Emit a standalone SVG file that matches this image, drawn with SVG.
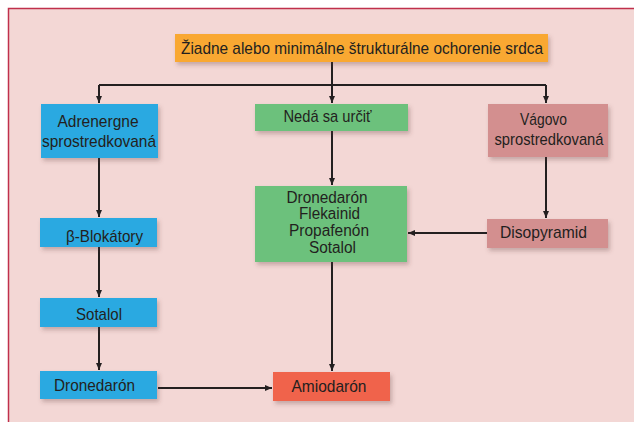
<svg xmlns="http://www.w3.org/2000/svg" width="634" height="422" viewBox="0 0 634 422">
  <defs>
    <filter id="shadow" x="-10%" y="-20%" width="130%" height="160%">
      <feDropShadow dx="2" dy="3" stdDeviation="2" flood-color="#5a3a3a" flood-opacity="0.3"/>
    </filter>
    <marker id="arrow" markerUnits="userSpaceOnUse" markerWidth="8" markerHeight="6" refX="7" refY="3" orient="auto">
      <path d="M0,0 L7,3 L0,6 z" fill="#231f20"/>
    </marker>
  </defs>
  <style>
    .box { filter: url(#shadow); }
    .blue { fill: #29a9e1; }
    .green { fill: #6cc17b; }
    .orange { fill: #f9a833; }
    .rose { fill: #d38f8f; }
    .red { fill: #f0644b; }
    text { font-family: "Liberation Sans", Arial, sans-serif; font-size: 17px; fill: #231f20; }
    .list { font-size: 16px; }
    .c { text-anchor: middle; }
    .link { fill: none; stroke: #231f20; stroke-width: 2; }
    .arr { marker-end: url(#arrow); }
  </style>

  <!-- background panel -->
  <rect x="0" y="0" width="634" height="422" fill="#ffffff"/>
  <rect x="8.5" y="8.5" width="640" height="430" fill="#f3d7d5" stroke="#c0304b" stroke-width="1.5"/>

  <!-- connectors -->
  <g id="connectors">
    <path class="link" d="M332,62 V85 M99,85 H546"/>
    <path class="link arr" d="M99,85 V103"/>
    <path class="link arr" d="M332,85 V103"/>
    <path class="link arr" d="M546,85 V103"/>
    <path class="link arr" d="M99,158 V217"/>
    <path class="link arr" d="M99,247 V297"/>
    <path class="link arr" d="M99,327 V370"/>
    <path class="link arr" d="M332,131 V185"/>
    <path class="link arr" d="M332,262 V371"/>
    <path class="link arr" d="M546,157 V218"/>
    <path class="link arr" d="M158,388 H272"/>
    <path class="link arr" d="M487,233 H408"/>
  </g>

  <g id="root">
    <rect class="box orange" x="175" y="34" width="373" height="28"/>
    <text x="362" y="53.5" class="c" textLength="362" lengthAdjust="spacingAndGlyphs">Žiadne alebo minimálne štrukturálne ochorenie srdca</text>
  </g>

  <g id="adrenergne">
    <rect class="box blue" x="41" y="104" width="117" height="54"/>
    <text x="98" y="127" class="c" textLength="81" lengthAdjust="spacingAndGlyphs">Adrenergne</text>
    <text x="99" y="146.5" class="c" textLength="114" lengthAdjust="spacingAndGlyphs">sprostredkovaná</text>
  </g>

  <g id="neda">
    <rect class="box green" x="255" y="104" width="153" height="27"/>
    <text x="327.5" y="122" class="c" textLength="88" lengthAdjust="spacingAndGlyphs">Nedá sa určiť</text>
  </g>

  <g id="vagovo">
    <rect class="box rose" x="488" y="104" width="120" height="53"/>
    <text x="543.5" y="124.5" class="c" textLength="47" lengthAdjust="spacingAndGlyphs">Vágovo</text>
    <text x="549" y="145" class="c" textLength="109" lengthAdjust="spacingAndGlyphs">sprostredkovaná</text>
  </g>

  <g id="blokatory">
    <rect class="box blue" x="40" y="218" width="117" height="29"/>
    <text x="104.5" y="241.5" class="c" textLength="77" lengthAdjust="spacingAndGlyphs">β-Blokátory</text>
  </g>

  <g id="lieky">
    <rect class="box green" x="255" y="186" width="152" height="76"/>
    <text x="327" y="202.5" class="c list" textLength="81" lengthAdjust="spacingAndGlyphs">Dronedarón</text>
    <text x="329.5" y="219" class="c list" textLength="61" lengthAdjust="spacingAndGlyphs">Flekainid</text>
    <text x="329" y="235.5" class="c list" textLength="80" lengthAdjust="spacingAndGlyphs">Propafenón</text>
    <text x="332.5" y="252.5" class="c list" textLength="47" lengthAdjust="spacingAndGlyphs">Sotalol</text>
  </g>

  <g id="disopyramid">
    <rect class="box rose" x="487" y="219" width="121" height="29"/>
    <text x="543.5" y="237.5" class="c" textLength="87" lengthAdjust="spacingAndGlyphs">Disopyramid</text>
  </g>

  <g id="sotalol">
    <rect class="box blue" x="40" y="298" width="117" height="29"/>
    <text x="99" y="320" class="c" textLength="46" lengthAdjust="spacingAndGlyphs">Sotalol</text>
  </g>

  <g id="dronedaron">
    <rect class="box blue" x="40" y="371" width="117" height="28"/>
    <text x="94.5" y="391" class="c" textLength="81" lengthAdjust="spacingAndGlyphs">Dronedarón</text>
  </g>

  <g id="amiodaron">
    <rect class="box red" x="273" y="372" width="117" height="29"/>
    <text x="329" y="391.5" class="c" textLength="75" lengthAdjust="spacingAndGlyphs">Amiodarón</text>
  </g>
</svg>
